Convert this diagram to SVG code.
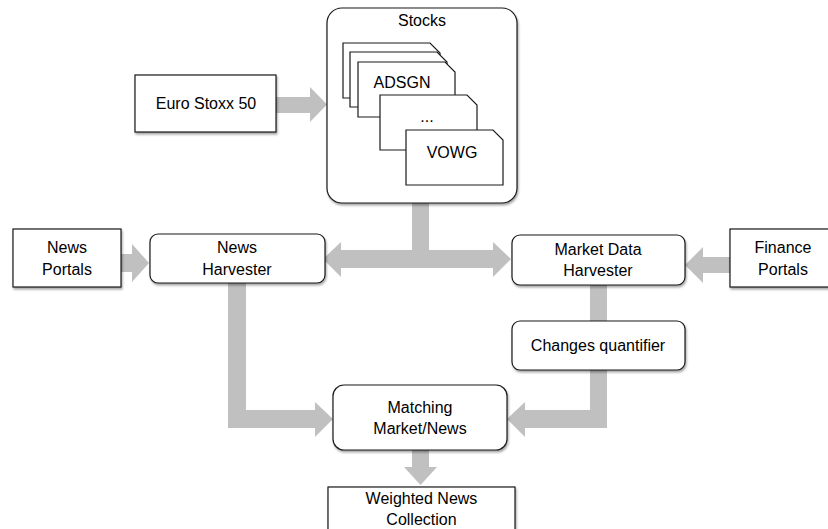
<svg xmlns="http://www.w3.org/2000/svg" width="828" height="529" viewBox="0 0 828 529">
<defs>
<filter id="sh" x="-10%" y="-10%" width="130%" height="140%">
<feDropShadow dx="1" dy="2" stdDeviation="1.2" flood-color="#000" flood-opacity="0.35"/>
</filter>
</defs>
<style>
.box{fill:#fff;stroke:#1a1a1a;stroke-width:1.2;filter:url(#sh)}
.card{fill:#fff;stroke:#1a1a1a;stroke-width:1.2}
.arr{fill:#c0c0c0;stroke:none}
text{font-family:"Liberation Sans",Arial,sans-serif;font-size:16px;fill:#000;text-anchor:middle}
</style>
<rect width="828" height="529" fill="#fff"/>
<g id="connectors">
<polygon class="arr" points="276,97 310,97 310,87 327,104.5 310,122 310,113 276,113"/>
<polygon class="arr" points="121,254 132,254 132,244 149,263 132,282 132,272 121,272"/>
<polygon class="arr" points="412,203 429,203 429,250 493,250 493,242 511,259 493,277 493,268 341,268 341,277 323,259 341,242 341,250 412,250"/>
<polygon class="arr" points="730,257 703,257 703,247 685,265 703,283 703,273 730,273"/>
<rect class="arr" x="590" y="284" width="17" height="38"/>
<polygon class="arr" points="590,369 607,369 607,428 525,428 525,437 507,419 525,402 525,410 590,410"/>
<polygon class="arr" points="228,282 246,282 246,410 315,410 315,402 333,419 315,437 315,428 228,428"/>
<polygon class="arr" points="412,449 429,449 429,467 437,467 420.5,485 404,467 412,467"/>
</g>
<g id="stocks">
<rect class="box" x="327" y="8" width="190" height="195" rx="15"/>
<text x="422" y="26">Stocks</text>
<path class="card" d="M343,43 h87 l10,10 v45 h-97 z"/>
<path class="card" d="M350,52 h87 l10,10 v45 h-97 z"/>
<path class="card" d="M358,62 h87 l10,10 v45 h-97 z"/>
<text x="402" y="88">ADSGN</text>
<path class="card" d="M380,95 h87 l10,10 v45 h-97 z"/>
<text x="427" y="122">...</text>
<path class="card" d="M406,130 h87 l10,10 v45 h-97 z"/>
<text x="452" y="158">VOWG</text>
</g>
<g id="euro-stoxx">
<rect class="box" x="135" y="75" width="141" height="57"/>
<text x="206" y="109">Euro Stoxx 50</text>
</g>
<g id="news-portals">
<rect class="box" x="13" y="229" width="108" height="58"/>
<text x="67" y="253">News</text>
<text x="67" y="275">Portals</text>
</g>
<g id="news-harvester">
<rect class="box" x="150" y="234" width="175" height="49" rx="8"/>
<text x="237" y="253">News</text>
<text x="237" y="275">Harvester</text>
</g>
<g id="market-harvester">
<rect class="box" x="512" y="235" width="173" height="50" rx="8"/>
<text x="598" y="255">Market Data</text>
<text x="598" y="276">Harvester</text>
</g>
<g id="finance-portals">
<rect class="box" x="730" y="229" width="106" height="58"/>
<text x="783" y="253">Finance</text>
<text x="783" y="275">Portals</text>
</g>
<g id="changes-quantifier">
<rect class="box" x="512" y="321" width="173" height="49" rx="8"/>
<text x="598" y="351">Changes quantifier</text>
</g>
<g id="matching">
<rect class="box" x="333" y="385" width="174" height="65" rx="11"/>
<text x="420" y="413">Matching</text>
<text x="420" y="434">Market/News</text>
</g>
<g id="weighted-news">
<rect class="box" x="328" y="487" width="187" height="50"/>
<text x="421.5" y="504">Weighted News</text>
<text x="421.5" y="525">Collection</text>
</g>
</svg>
